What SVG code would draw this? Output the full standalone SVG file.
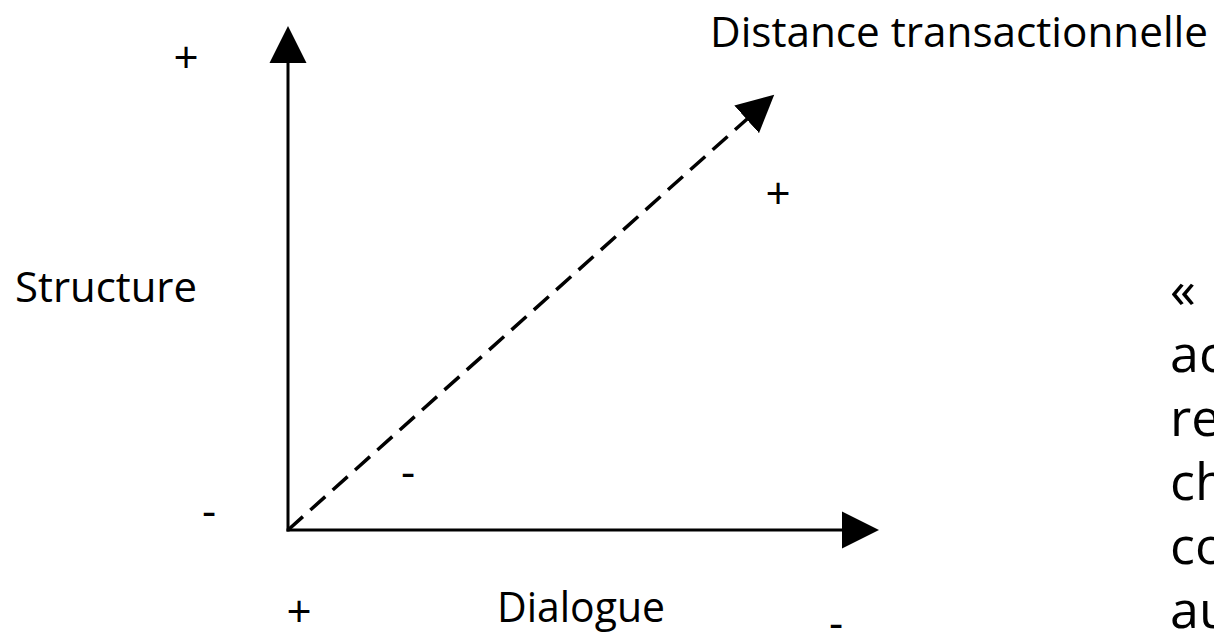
<svg xmlns="http://www.w3.org/2000/svg" width="1214" height="633" viewBox="0 0 1214 633">
  <style>
    .lbl { font-family: "Open Sans", "Noto Sans", "DejaVu Sans", sans-serif; font-size: 42px; fill: #000; }
    .sym { font-family: "Open Sans", "Noto Sans", "DejaVu Sans", sans-serif; font-size: 44px; fill: #000; text-anchor: middle; }
    .big { font-family: "Open Sans", "Noto Sans", "DejaVu Sans", sans-serif; font-size: 52px; fill: #000; }
    .axis { stroke: #000; stroke-width: 3; fill: none; }
    .dash { stroke: #000; stroke-width: 3.5; fill: none; stroke-dasharray: 20 10; }
  </style>
  <defs>
    <marker id="arrow" markerUnits="userSpaceOnUse" markerWidth="38" markerHeight="38" refX="1" refY="18.5" orient="auto" viewBox="0 0 38 37">
      <path d="M0,0 L37,18.5 L0,37 Z" fill="#000"/>
    </marker>
  </defs>
  <rect width="1214" height="633" fill="#fff"/>
  <g id="connectors">
    <line id="axis-structure" class="axis" x1="288" y1="531.5" x2="288" y2="62" marker-end="url(#arrow)"/>
    <line id="axis-dialogue" class="axis" x1="286.5" y1="530" x2="843" y2="530" marker-end="url(#arrow)"/>
    <line id="axis-distance" class="dash" x1="288" y1="530" x2="747.4" y2="118.7" marker-end="url(#arrow)"/>
  </g>
  <g id="label-structure">
    <text class="lbl" x="15" y="302" textLength="182" lengthAdjust="spacingAndGlyphs">Structure</text>
    <text class="sym" x="186" y="73">+</text>
    <text class="sym" x="209" y="526">-</text>
  </g>
  <g id="label-dialogue">
    <text class="lbl" x="497" y="622" textLength="168" lengthAdjust="spacingAndGlyphs">Dialogue</text>
    <text class="sym" x="299" y="627">+</text>
    <text class="sym" x="836" y="638">-</text>
  </g>
  <g id="label-distance">
    <text class="lbl" x="710" y="47" textLength="498" lengthAdjust="spacingAndGlyphs">Distance transactionnelle</text>
    <text class="sym" x="778" y="209">+</text>
    <text class="sym" x="408" y="487">-</text>
  </g>
  <g id="quote-text">
    <text class="big" x="1170" y="308">«</text>
    <text class="big" x="1170" y="372">ac</text>
    <text class="big" x="1170" y="436">re</text>
    <text class="big" x="1170" y="500">ch</text>
    <text class="big" x="1170" y="564">co</text>
    <text class="big" x="1170" y="628">au</text>
  </g>
</svg>
